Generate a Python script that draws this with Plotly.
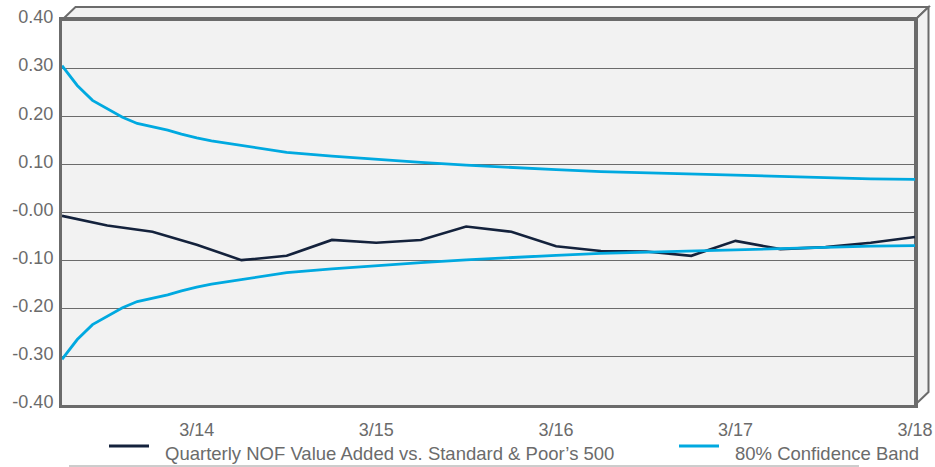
import plotly.graph_objects as go

# quarterly NOF value added vs. S&P 500 (quarter-end dates)
quarters = [
    "2013-06-30", "2013-09-30", "2013-12-31", "2014-03-31", "2014-06-30",
    "2014-09-30", "2014-12-31", "2015-03-31", "2015-06-30", "2015-09-30",
    "2015-12-31", "2016-03-31", "2016-06-30", "2016-09-30", "2016-12-31",
    "2017-03-31", "2017-06-30", "2017-09-30", "2017-12-31", "2018-03-31",
]
value_added = [
    -0.007, -0.027, -0.040, -0.067, -0.099, -0.090, -0.057, -0.063, -0.057, -0.029,
    -0.040, -0.070, -0.080, -0.081, -0.090, -0.059, -0.076, -0.072, -0.063, -0.051,
]

# 80% confidence band half-width (monthly for the first year, then quarterly)
band_dates = [
    "2013-06-30", "2013-07-31", "2013-08-31", "2013-09-30", "2013-10-31",
    "2013-11-30", "2013-12-31", "2014-01-31", "2014-02-28", "2014-03-31",
    "2014-04-30", "2014-05-31", "2014-06-30", "2014-09-30", "2014-12-31",
    "2015-03-31", "2015-06-30", "2015-09-30", "2015-12-31", "2016-03-31",
    "2016-06-30", "2016-09-30", "2016-12-31", "2017-03-31", "2017-06-30",
    "2017-09-30", "2017-12-31", "2018-03-31",
]
band_half = [
    0.305, 0.264, 0.233, 0.215, 0.198, 0.185, 0.178, 0.171, 0.163, 0.155,
    0.149, 0.144, 0.140, 0.125, 0.117, 0.110, 0.104, 0.0985, 0.093, 0.089,
    0.085, 0.0825, 0.080, 0.0777, 0.075, 0.072, 0.070, 0.069,
]

x_tickvals = ["2014-03-31", "2015-03-31", "2016-03-31", "2017-03-31", "2018-03-31"]
x_ticktext = ["3/14", "3/15", "3/16", "3/17", "3/18"]
y_tickvals = [0.4, 0.3, 0.2, 0.1, 0.0, -0.1, -0.2, -0.3, -0.4]
y_ticktext = ["0.40", "0.30", "0.20", "0.10", "-0.00", "-0.10", "-0.20", "-0.30", "-0.40"]

NAVY = "#14223c"
BLUE = "#00a9e0"
GREY = "#6b6b6b"
TEXT = "#6b6b6b"

W, H = 935, 467
L, R, T, B = 62, 20, 20, 62
PW, PH = W - L - R, H - T - B


def px(x):
    return (x - L) / PW


def py(y):
    return (H - B - y) / PH


fig = go.Figure()
fig.add_trace(go.Scatter(x=quarters, y=value_added, mode="lines",
                         name="Quarterly NOF Value Added vs. Standard & Poor’s 500",
                         line=dict(color=NAVY, width=2.6)))
fig.add_trace(go.Scatter(x=band_dates, y=band_half, mode="lines", name="80% Confidence Band",
                         line=dict(color=BLUE, width=2.8)))
fig.add_trace(go.Scatter(x=band_dates, y=[-v for v in band_half], mode="lines",
                         name="80% Confidence Band", line=dict(color=BLUE, width=2.8)))

# 3D frame behind the plot area
dx, dy = 13.5 / PW, 13 / PH
frame = dict(type="path", xref="paper", yref="paper", layer="below",
             fillcolor="#f1f1f1", line=dict(color=GREY, width=2))
fig.add_shape(path=f"M0,1 L{dx},{1+dy} L{1+dx},{1+dy} L1,1 Z", **frame)
fig.add_shape(path=f"M1,1 L{1+dx},{1+dy} L{1+dx},{dy} L1,0 Z", **frame)

# legend drawn by hand
leg_y = py(446)
fig.add_shape(type="line", xref="paper", yref="paper", x0=px(109), x1=px(149),
              y0=leg_y, y1=leg_y, line=dict(color=NAVY, width=3))
fig.add_shape(type="line", xref="paper", yref="paper", x0=px(679), x1=px(719),
              y0=leg_y, y1=leg_y, line=dict(color=BLUE, width=3))
fig.add_shape(type="line", xref="paper", yref="paper", x0=px(69), x1=px(859),
              y0=py(466), y1=py(466), line=dict(color="#9a9a9a", width=1))
for x0, txt in [(163, fig.data[0].name), (733, fig.data[1].name)]:
    fig.add_annotation(x=px(x0), y=py(453), xref="paper", yref="paper", text=txt,
                       showarrow=False, xanchor="left", yanchor="middle",
                       font=dict(size=18.5, color=TEXT))

fig.update_xaxes(type="date", range=[quarters[0], quarters[-1]],
                 tickvals=x_tickvals, ticktext=x_ticktext, showgrid=False,
                 showline=True, linecolor=GREY, linewidth=3, mirror=True,
                 ticks="", ticklabelstandoff=6, zeroline=False, automargin=False,
                 tickfont=dict(size=18, color=TEXT))
fig.update_yaxes(range=[-0.4, 0.4], tickvals=y_tickvals, ticktext=y_ticktext,
                 showgrid=True, gridcolor=GREY, gridwidth=1, zeroline=False,
                 showline=True, linecolor=GREY, linewidth=3, mirror=True,
                 ticks="", ticklabelstandoff=2, ticklabelshift=-3, automargin=False,
                 tickfont=dict(size=18, color=TEXT))

fig.update_layout(
    width=W, height=H,
    margin=dict(l=L, r=R, t=T, b=B),
    paper_bgcolor="white", plot_bgcolor="#f2f2f2",
    font=dict(family="Liberation Sans, Arial, sans-serif", color=TEXT),
    showlegend=False,
)

fig.write_html("out.html", config={"displayModeBar": False},
               post_script="document.body.style.margin='0';")
